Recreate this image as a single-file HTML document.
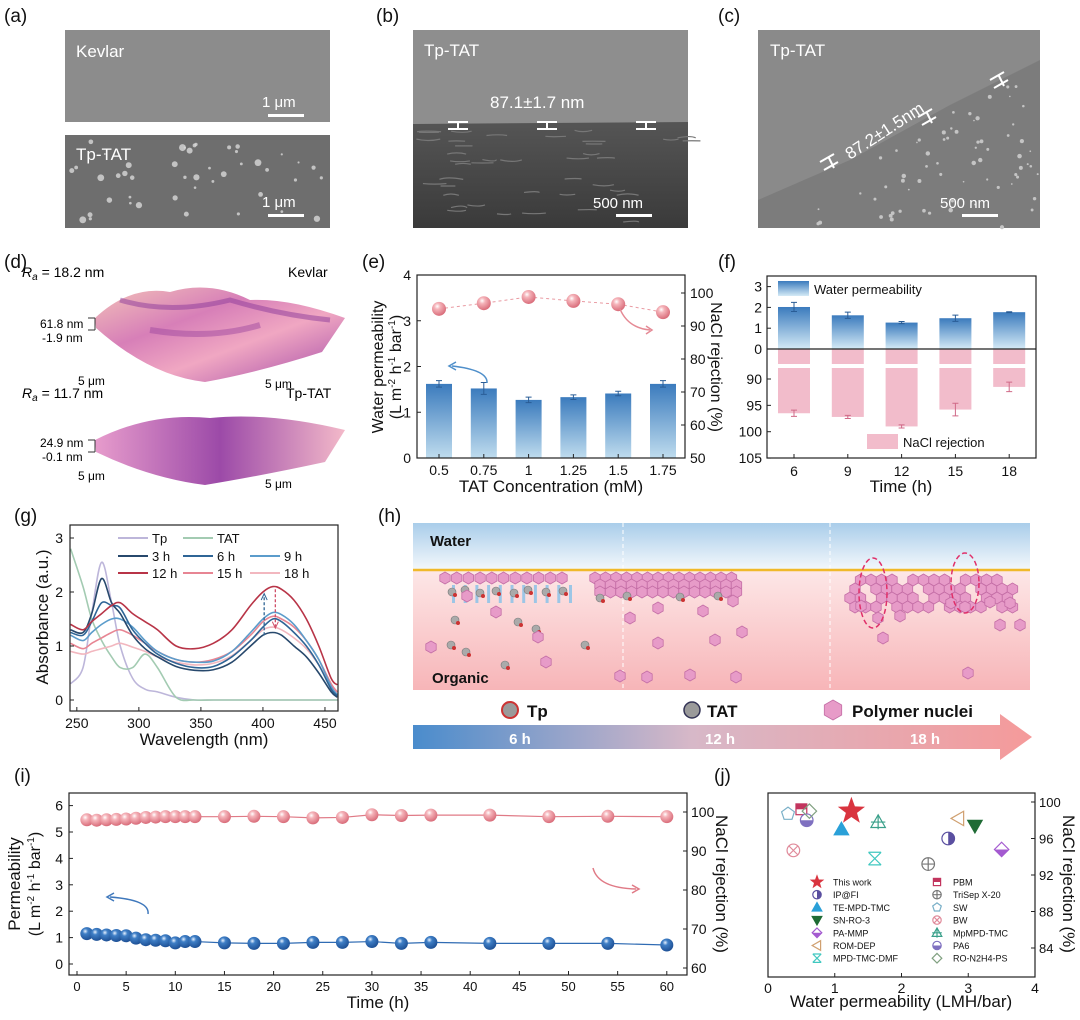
<!DOCTYPE html>
<html><head><meta charset="utf-8">
<style>
html,body{margin:0;padding:0;background:#fff;}
svg{display:block;font-family:"Liberation Sans",Arial,sans-serif;}
</style></head>
<body>
<svg id="fig" width="1080" height="1020" viewBox="0 0 1080 1020" xmlns="http://www.w3.org/2000/svg">
<defs>
  <linearGradient id="barBlue" x1="0" y1="0" x2="0" y2="1"><stop offset="0" stop-color="#3b7bbd"/><stop offset="1" stop-color="#bfdcee"/></linearGradient>
  <linearGradient id="barBlueF" x1="0" y1="0" x2="0" y2="1"><stop offset="0" stop-color="#3b7bbd"/><stop offset="1" stop-color="#d4eaf6"/></linearGradient>
  <radialGradient id="ballPink" cx="0.38" cy="0.32" r="0.7"><stop offset="0" stop-color="#fff"/><stop offset="0.3" stop-color="#f5b4ba"/><stop offset="1" stop-color="#d86a78"/></radialGradient>
  <radialGradient id="ballBlue" cx="0.38" cy="0.32" r="0.7"><stop offset="0" stop-color="#e8f2ff"/><stop offset="0.3" stop-color="#3f7fc6"/><stop offset="1" stop-color="#1d4f94"/></radialGradient>
  <linearGradient id="waterG" x1="0" y1="0" x2="0" y2="1"><stop offset="0" stop-color="#a9cdea"/><stop offset="1" stop-color="#f4f8fc"/></linearGradient>
  <linearGradient id="orgG" x1="0" y1="0" x2="0" y2="1"><stop offset="0" stop-color="#fde7e7"/><stop offset="1" stop-color="#f7b5b8"/></linearGradient>
  <linearGradient id="arrowG" x1="0" y1="0" x2="1" y2="0"><stop offset="0" stop-color="#4a8ccc"/><stop offset="0.45" stop-color="#d7b8c8"/><stop offset="1" stop-color="#f59a9a"/></linearGradient>
  <linearGradient id="afmG" x1="0" y1="0" x2="1" y2="1"><stop offset="0" stop-color="#f3c2b8"/><stop offset="0.35" stop-color="#d77fb8"/><stop offset="0.6" stop-color="#f0a7c2"/><stop offset="1" stop-color="#a44aa8"/></linearGradient>
  <linearGradient id="afmG2" x1="0" y1="0" x2="1" y2="0"><stop offset="0" stop-color="#e79ccc"/><stop offset="0.5" stop-color="#9c4aa8"/><stop offset="1" stop-color="#f3b9c9"/></linearGradient>
  <linearGradient id="semDark" x1="0" y1="0" x2="0" y2="1"><stop offset="0" stop-color="#555"/><stop offset="1" stop-color="#3a3a3a"/></linearGradient>
</defs>

<g font-size="19" fill="#111">
  <text x="4" y="22">(a)</text><text x="376" y="22">(b)</text><text x="718" y="22">(c)</text>
  <text x="4" y="268">(d)</text><text x="362" y="268">(e)</text><text x="718" y="268">(f)</text>
  <text x="14" y="522">(g)</text><text x="378" y="522">(h)</text>
  <text x="14" y="782">(i)</text><text x="714" y="782">(j)</text>
</g>

<g>
  <rect x="65" y="30" width="265" height="92" fill="#8c8c8c"/>
  <text x="76" y="57" fill="#fff" font-size="17">Kevlar</text>
  <rect x="268" y="114" width="36" height="3" fill="#fff"/><text x="262" y="107" fill="#fff" font-size="15">1 μm</text>
  <rect x="65" y="135" width="265" height="93" fill="#6e6e6e"/>
  <g id="aSpots" fill="#d8d8d8"></g>
  <text x="76" y="160" fill="#fff" font-size="17">Tp-TAT</text>
  <rect x="268" y="214" width="36" height="3" fill="#fff"/><text x="262" y="207" fill="#fff" font-size="15">1 μm</text>
</g>
<g>
  <rect x="413" y="30" width="275" height="198" fill="#8e8e8e"/>
  <path d="M413 124 L688 122 L688 228 L413 228 Z" fill="url(#semDark)"/>
  <g id="bTex" stroke="#777" stroke-width="1.2" fill="none"></g>
  <text x="424" y="56" fill="#fff" font-size="17">Tp-TAT</text>
  <text x="490" y="108" fill="#fff" font-size="17">87.1±1.7 nm</text>
  <g stroke="#fff" stroke-width="2"><path d="M448 122h20M448 129h20M458 122v7M537 122h20M537 129h20M547 122v7M636 122h20M636 129h20M646 122v7"/></g>
  <rect x="616" y="214" width="36" height="3" fill="#fff"/><text x="593" y="208" fill="#fff" font-size="15">500 nm</text>
</g>
<g>
  <rect x="758" y="30" width="282" height="198" fill="#8a8a8a"/>
  <path d="M758 228 L758 200 L850 160 L950 105 L1040 60 L1040 228 Z" fill="#7c7c7c"/>
  <g id="cSpots" fill="#c4c4c4"></g>
  <text x="770" y="56" fill="#fff" font-size="17">Tp-TAT</text>
  <text x="850" y="160" fill="#fff" font-size="17" transform="rotate(-33 850 160)">87.2±1.5nm</text>
  <g stroke="#fff" stroke-width="2"><path d="M820 162l14 -8M824 170l14 -8M829 158l5 10M918 117l14 -8M922 125l14 -8M927 113l5 10M990 80l14 -8M994 88l14 -8M999 76l5 10"/></g>
  <rect x="962" y="214" width="36" height="3" fill="#fff"/><text x="940" y="208" fill="#fff" font-size="15">500 nm</text>
</g>

<g font-size="14">
  <text x="22" y="277"><tspan font-style="italic">R</tspan><tspan font-style="italic" font-size="10" dy="3">a</tspan><tspan dy="-3"> = 18.2 nm</tspan></text>
  <text x="288" y="277">Kevlar</text>
  <path d="M95 318 Q130 285 170 292 Q210 280 250 300 Q290 298 345 318 L322 352 Q260 372 205 382 Q150 376 96 328 Z" fill="url(#afmG)"/>
  <path d="M120 300 Q170 315 230 300 Q280 315 330 320" stroke="#8c3a9a" stroke-width="5" fill="none" opacity="0.5"/>
  <path d="M150 330 Q210 340 260 325" stroke="#a04aa0" stroke-width="6" fill="none" opacity="0.5"/>
  <path d="M95 318 L95 330 M95 318 L88 318 M95 330 L88 330" stroke="#333" fill="none"/>
  <text x="40" y="328" font-size="12">61.8 nm</text><text x="42" y="342" font-size="12">-1.9 nm</text>
  <text x="78" y="385" font-size="12">5 μm</text><text x="265" y="388" font-size="12">5 μm</text>
  <text x="22" y="398"><tspan font-style="italic">R</tspan><tspan font-style="italic" font-size="10" dy="3">a</tspan><tspan dy="-3"> = 11.7 nm</tspan></text>
  <text x="286" y="398">Tp-TAT</text>
  <path d="M95 440 Q150 412 210 418 Q270 412 345 430 L325 462 Q260 476 205 485 Q150 478 96 452 Z" fill="url(#afmG2)"/>
  <path d="M95 440 L95 452 M95 440 L88 440 M95 452 L88 452" stroke="#333" fill="none"/>
  <text x="40" y="447" font-size="12">24.9 nm</text><text x="42" y="461" font-size="12">-0.1 nm</text>
  <text x="78" y="480" font-size="12">5 μm</text><text x="265" y="488" font-size="12">5 μm</text>
</g>

<g id="panelE"></g>
<g id="panelF"></g>
<g id="panelG"></g>
<g id="panelH"></g>
<g id="panelI"></g>
<g id="panelJ"></g>
</svg>

<script>
// (e)
const eCats = ['0.5','0.75','1','1.25','1.5','1.75'];
const ePerm = [1.62, 1.52, 1.27, 1.33, 1.41, 1.62];
const ePermErr = [0.07, 0.13, 0.06, 0.05, 0.05, 0.07];
const eRej = [95.2, 96.9, 98.8, 97.6, 96.6, 94.2];
const eLeftTicks = [0, 1, 2, 3, 4];
const eRightTicks = [50, 60, 70, 80, 90, 100];
// (f)
const fCats = ['6','9','12','15','18'];
const fPerm = [2.02, 1.62, 1.27, 1.48, 1.77];
const fPermErr = [0.22, 0.15, 0.05, 0.15, 0.02];
const fRej = [96.5, 97.2, 99.0, 95.8, 91.5];
const fRejErr = [0.6, 0.3, 0.3, 1.2, 0.9];
const fTopTicks = [0, 1, 2, 3];
const fBotTicks = [90, 95, 100, 105];
// (g)
const gWl = [245,255,262,270,278,285,295,305,315,330,345,360,375,390,400,408,415,425,435,445,455,460];
const gTp  = [0.3,0.6,1.6,2.55,1.8,1.0,0.4,0.2,0.15,0.05,0,0,0,0,0,0,0,0,0,0,0,0];
const gTAT = [2.8,2.1,1.5,1.1,0.8,0.6,0.6,0.85,0.6,0.05,0,0,0,0,0,0,0,0,0,0,0,0];
const g3h  = [1.3,1.25,1.6,2.25,1.8,1.6,1.2,0.95,0.8,0.62,0.55,0.56,0.7,1.0,1.2,1.25,1.2,1.0,0.8,0.5,0.15,0.05];
const g6h  = [1.25,1.2,1.45,1.8,1.75,1.7,1.3,1.05,0.85,0.68,0.6,0.62,0.8,1.1,1.35,1.5,1.45,1.25,1.0,0.65,0.2,0.08];
const g9h  = [1.2,1.1,1.25,1.4,1.5,1.5,1.35,1.1,0.9,0.75,0.7,0.72,0.9,1.25,1.5,1.62,1.58,1.4,1.1,0.75,0.25,0.1];
const g12h = [1.4,1.3,1.45,1.6,1.75,1.8,1.6,1.45,1.3,1.0,0.95,1.05,1.3,1.75,2.0,2.1,2.05,1.85,1.5,1.0,0.4,0.28];
const g15h = [1.05,0.95,1.05,1.15,1.25,1.3,1.2,1.05,0.9,0.75,0.7,0.75,0.9,1.2,1.45,1.55,1.5,1.35,1.1,0.75,0.3,0.15];
const g18h = [0.9,0.85,0.9,0.95,1.0,1.05,0.98,0.9,0.8,0.7,0.65,0.68,0.82,1.1,1.3,1.35,1.3,1.15,0.95,0.65,0.25,0.12];
const gXTicks = [250, 300, 350, 400, 450];
const gYTicks = [0, 1, 2, 3];
// (i)
const iTime = [1,2,3,4,5,6,7,8,9,10,11,12,15,18,21,24,27,30,33,36,42,48,54,60];
const iPerm = [1.15,1.12,1.1,1.08,1.07,0.98,0.92,0.9,0.88,0.8,0.85,0.85,0.8,0.78,0.78,0.82,0.82,0.85,0.78,0.82,0.78,0.78,0.78,0.72];
const iRej  = [98.0,97.9,98.0,98.1,98.2,98.4,98.6,98.7,98.8,98.8,98.8,98.8,98.8,98.9,98.8,98.5,98.6,99.3,99.1,99.2,99.2,98.8,98.9,98.8];
const iXTicks = [0,5,10,15,20,25,30,35,40,45,50,55,60];
const iLTicks = [0,1,2,3,4,5,6];
const iRTicks = [60,70,80,90,100];
// (j)
const jNames = ['This work','IP@FI','TE-MPD-TMC','SN-RO-3','PA-MMP','ROM-DEP','MPD-TMC-DMF','PBM','TriSep X-20','SW','BW','MpMPD-TMC','PA6','RO-N2H4-PS'];
const jPerm = [1.25, 2.7, 1.1, 3.1, 3.5, 2.85, 1.6, 0.5, 2.4, 0.3, 0.38, 1.65, 0.58, 0.62];
const jRej  = [99.0, 96.0, 97.0, 97.4, 94.8, 98.2, 93.8, 99.2, 93.2, 98.7, 94.7, 97.8, 98.0, 99.0];
const jShape = ['star','halfcircle','tri','invtri','diamond','lefttri','xbox','halfsquare','crosscircle','pentagon','xcircle','tricross','halfcirclebot','diamondo'];
const jColor = ['#d9343f','#5a4fa0','#2aa0d8','#1f6b35','#a45ad0','#d0a070','#40c8c0','#c2355e','#777','#7ab0c8','#e08a9a','#3aa08a','#7f70c0','#80a080'];
const jXTicks = [0,1,2,3,4];
const jYTicks = [84,88,92,96,100];

const NS = 'http://www.w3.org/2000/svg';
function mk(tag, attrs, parent){
  const el = document.createElementNS(NS, tag);
  for (const k in attrs) el.setAttribute(k, attrs[k]);
  parent.appendChild(el);
  return el;
}
function txt(parent, x, y, s, size, anchor, extra){
  const el = mk('text', Object.assign({x:x, y:y, 'font-size':size, 'text-anchor':anchor||'middle', fill:'#111'}, extra||{}), parent);
  el.textContent = s;
  return el;
}

(function(){
  const P = document.getElementById('panelE');
  const L=417,R=685,T=275,B=458;
  const xE = i => 439 + i*44.8;
  const yE = v => B - v*45.75;
  const yER = v => B - (v-50)*3.3;
  ePerm.forEach((v,i)=>{
    const r = mk('rect',{x:xE(i)-13,y:yE(v),width:26,height:B-yE(v),fill:'url(#barBlue)'},P);
    
    
    const e = mk('path',{d:`M${xE(i)} ${yE(v+ePermErr[i])}V${yE(v-ePermErr[i])}M${xE(i)-3} ${yE(v+ePermErr[i])}h6M${xE(i)-3} ${yE(v-ePermErr[i])}h6`,stroke:'#2a5d96','stroke-width':1,fill:'none'},P);
    
    
  });
  const pl = mk('polyline',{points:eRej.map((v,i)=>xE(i)+','+yER(v)).join(' '),fill:'none',stroke:'#e99aa2','stroke-dasharray':'3,3','stroke-width':1},P);
  
  
  eRej.forEach((v,i)=>{
    const c = mk('circle',{cx:xE(i),cy:yER(v),r:7,fill:'url(#ballPink)'},P);
    
    
  });
  const fr = mk('rect',{x:L,y:T,width:R-L,height:B-T,fill:'none',stroke:'#222','stroke-width':1.2},P);
  
  
  eLeftTicks.forEach(v=>{ mk('path',{d:`M${L} ${yE(v)}h4`,stroke:'#222'},P); txt(P,L-6,yE(v)+5,String(v),14,'end'); });
  eRightTicks.forEach(v=>{ mk('path',{d:`M${R} ${yER(v)}h-4`,stroke:'#222'},P); txt(P,R+5,yER(v)+5,String(v),14,'start'); });
  eCats.forEach((c,i)=>{ mk('path',{d:`M${xE(i)} ${B}v-4`,stroke:'#222'},P); txt(P,xE(i),B+17,c,14); });
  const xt = txt(P,551,492,'TAT Concentration (mM)',17);
  
  
  const y1 = txt(P,0,0,'Water permeability',16,'middle',{transform:'translate(383 367) rotate(-90)'});
  
  
  const y2 = txt(P,0,0,'',16,'middle',{transform:'translate(401 367) rotate(-90)'});
  y2.innerHTML = '(L m<tspan font-size="10" dy="-6">-2</tspan><tspan dy="6"> h</tspan><tspan font-size="10" dy="-6">-1</tspan><tspan dy="6"> bar</tspan><tspan font-size="10" dy="-6">-1</tspan><tspan dy="6">)</tspan>';
  
  
  const yr = txt(P,0,0,'NaCl rejection (%)',16,'middle',{transform:'translate(711 367) rotate(90)'});
  
  
  mk('path',{d:'M487 383 Q488 370 452 366',stroke:'#4f8fca','stroke-width':1.5,fill:'none'},P);
  mk('path',{d:'M456 362 L449 366 L456 370',stroke:'#4f8fca','stroke-width':1.5,fill:'none'},P);
  mk('path',{d:'M620 309 Q628 328 650 330',stroke:'#e58a95','stroke-width':1.5,fill:'none'},P);
  mk('path',{d:'M646 326 L652 330 L646 334',stroke:'#e58a95','stroke-width':1.5,fill:'none'},P);
})();

(function(){
  const P = document.getElementById('panelF');
  const L=767,R=1036,T=276,B=458;
  const xF = i => 794 + i*53.8;
  const yT = v => 349 - v*20.8;
  const yB = v => 379 + (v-90)*5.27;
  fPerm.forEach((v,i)=>{
    const r = mk('rect',{x:xF(i)-16,y:yT(v),width:32,height:349-yT(v),fill:'url(#barBlueF)'},P);
    
    
    mk('path',{d:`M${xF(i)} ${yT(v+fPermErr[i])}V${yT(v-fPermErr[i])}M${xF(i)-3} ${yT(v+fPermErr[i])}h6M${xF(i)-3} ${yT(v-fPermErr[i])}h6`,stroke:'#2a5d96',fill:'none'},P);
    const r1 = mk('rect',{x:xF(i)-16,y:349,width:32,height:15,fill:'#f2bccb'},P);
    
    
    const r2 = mk('rect',{x:xF(i)-16,y:368,width:32,height:yB(fRej[i])-368,fill:'#f2bccb'},P);
    
    
    const a=fRej[i]+fRejErr[i], b=fRej[i]-fRejErr[i];
    mk('path',{d:`M${xF(i)} ${yB(a)}V${yB(b)}M${xF(i)-3} ${yB(a)}h6M${xF(i)-3} ${yB(b)}h6`,stroke:'#d06a88',fill:'none'},P);
  });
  mk('path',{d:`M${L} 349H${R}`,stroke:'#222','stroke-width':1.2},P);
  const fr = mk('rect',{x:L,y:T,width:R-L,height:B-T,fill:'none',stroke:'#222','stroke-width':1.2},P);
  
  
  fTopTicks.forEach(v=>{ mk('path',{d:`M${L} ${yT(v)}h4`,stroke:'#222'},P); txt(P,L-5,yT(v)+5,String(v),14,'end'); });
  fBotTicks.forEach(v=>{ mk('path',{d:`M${L} ${yB(v)}h4`,stroke:'#222'},P); txt(P,L-5,yB(v)+5,String(v),14,'end'); });
  fCats.forEach((c,i)=>{ mk('path',{d:`M${xF(i)} ${B}v-4`,stroke:'#222'},P); txt(P,xF(i),B+18,c,14); });
  const xt = txt(P,901,492,'Time (h)',17);
  
  
  const l1 = mk('rect',{x:778,y:281,width:31,height:15,fill:'url(#barBlueF)'},P);
  
  
  const lt1 = txt(P,814,294,'Water permeability',13,'start');
  
  
  const l2 = mk('rect',{x:867,y:434,width:31,height:15,fill:'#f2bccb'},P);
  
  
  const lt2 = txt(P,903,447,'NaCl rejection',13,'start');
  
  
})();

(function(){
  const P = document.getElementById('panelG');
  const L=70,R=338,T=525,B=711;
  const xG = w => L + (w-244.5)*(R-L)/216;
  const yG = v => 700 - v*54;
  const series = [['Tp',gTp,'#bdb6da'],['TAT',gTAT,'#a3cbb2'],['18 h',g18h,'#f2b7bf'],['15 h',g15h,'#e78593'],['9 h',g9h,'#5b9ccb'],['6 h',g6h,'#2f6596'],['3 h',g3h,'#27486c'],['12 h',g12h,'#b83447']];
  series.forEach(s=>{
    const pts = gWl.map((w,i)=>[xG(w),yG(s[1][i])]);
    let d = 'M'+pts[0][0]+' '+pts[0][1];
    for(let i=1;i<pts.length;i++){
      const p0=pts[i-2]||pts[i-1], p1=pts[i-1], p2=pts[i], p3=pts[i+1]||pts[i];
      const c1x=p1[0]+(p2[0]-p0[0])/6, c1y=p1[1]+(p2[1]-p0[1])/6, c2x=p2[0]-(p3[0]-p1[0])/6, c2y=p2[1]-(p3[1]-p1[1])/6;
      d += ` C${c1x} ${c1y} ${c2x} ${c2y} ${p2[0]} ${p2[1]}`;
    }
    const el = mk('path',{d:d,fill:'none',stroke:s[2],'stroke-width':1.6},P);
    
    
  });
  mk('path',{d:`M${xG(401)} ${yG(1.2)}V${yG(1.95)}`,stroke:'#2f6596','stroke-dasharray':'3,2','stroke-width':1.3},P);
  mk('path',{d:`M${xG(401)-3} ${yG(1.85)}L${xG(401)} ${yG(1.97)}L${xG(401)+3} ${yG(1.85)}`,stroke:'#2f6596',fill:'none'},P);
  mk('path',{d:`M${xG(410)} ${yG(2.05)}V${yG(1.35)}`,stroke:'#d0506a','stroke-dasharray':'3,2','stroke-width':1.3},P);
  mk('path',{d:`M${xG(410)-3} ${yG(1.45)}L${xG(410)} ${yG(1.33)}L${xG(410)+3} ${yG(1.45)}`,stroke:'#d0506a',fill:'none'},P);
  const fr = mk('rect',{x:L,y:T,width:R-L,height:B-T,fill:'none',stroke:'#222','stroke-width':1.2},P);
  
  
  gXTicks.forEach(w=>{ mk('path',{d:`M${xG(w)} ${B}v-4`,stroke:'#222'},P); txt(P,xG(w),B+17,String(w),14); });
  gYTicks.forEach(v=>{ mk('path',{d:`M${L} ${yG(v)}h4`,stroke:'#222'},P); txt(P,L-7,yG(v)+5,String(v),14,'end'); });
  const xt = txt(P,204,745,'Wavelength (nm)',17);
  
  
  const yt = txt(P,0,0,'Absorbance (a.u.)',17,'middle',{transform:'translate(48 617) rotate(-90)'});
  
  
  const leg = [['Tp','#bdb6da',118,538],['TAT','#a3cbb2',183,538],['3 h','#27486c',118,556],['6 h','#2f6596',183,556],['9 h','#5b9ccb',250,556],['12 h','#b83447',118,573],['15 h','#e78593',183,573],['18 h','#f2b7bf',250,573]];
  leg.forEach(l=>{
    mk('path',{d:`M${l[2]} ${l[3]}h30`,stroke:l[1],'stroke-width':2},P);
    const t = txt(P,l[2]+34,l[3]+5,l[0],13,'start');
    
    
  });
})();

(function(){
  const P = document.getElementById('panelH');
  mk('rect',{x:413,y:523,width:617,height:47,fill:'url(#waterG)'},P);
  mk('rect',{x:413,y:570,width:617,height:120,fill:'url(#orgG)'},P);
  mk('path',{d:'M623 523V690M830 523V690',stroke:'#fff','stroke-dasharray':'4,3','stroke-width':1},P);
  mk('path',{d:'M413 570H1030',stroke:'#f0b92a','stroke-width':2.5},P);
  const w = txt(P,430,546,'Water',15,'start',{'font-weight':'bold'});
  
  
  const o = txt(P,432,683,'Organic',15,'start',{'font-weight':'bold'});
  
  
  function hex(cx,cy,r){
    let p=[];for(let k=0;k<6;k++){const a=Math.PI/6+k*Math.PI/3;p.push((cx+r*Math.cos(a)).toFixed(1)+','+(cy+r*Math.sin(a)).toFixed(1));}
    mk('polygon',{points:p.join(' '),fill:'#e79bc8',stroke:'#c46ea6','stroke-width':0.8},P);
  }
  function mol(cx,cy,c){ mk('circle',{cx:cx,cy:cy,r:4,fill:c,stroke:'#777','stroke-width':0.6},P); mk('circle',{cx:cx+3,cy:cy+3,r:2,fill:'#c33'},P); }
  for(let i=0;i<11;i++) hex(445+i*11.7,578,6);
  for(let i=0;i<11;i++) mk('rect',{x:452+i*11.7,y:585,width:3,height:18,fill:'#9cc6e6'},P);
  [[452,592],[465,590],[480,593],[496,591],[514,593],[528,590],[546,592],[563,591],[455,620],[518,622],[536,629],[451,645],[466,652],[505,665]].forEach(p=>mol(p[0],p[1],'#aaa'));
  [[467,596,6],[496,612,6],[538,637,6],[431,647,6],[546,662,6]].forEach(p=>hex(p[0],p[1],p[2]));
  for(let r=0;r<3;r++) for(let i=0;i<14;i++) hex(595+i*10.5+(r%2)*5 - (r==2?-5:0),578+r*7,6);
  [[600,598],[627,596],[680,597],[718,596],[585,645]].forEach(p=>mol(p[0],p[1],'#aaa'));
  [[590,618],[618,608],[663,611],[693,601],[702,632],[675,640],[618,643],[650,675],[580,676],[607,677],[696,677]].forEach(p=>hex(p[0]+40,p[1],6));
  for(let r=0;r<4;r++) for(let i=0;i<16;i++){ if((i*7+r*3)%5===0) continue; hex(850+i*10.5+(r%2)*5,580+r*9,6); }
  [[861,606],[878,618],[900,616],[951,603],[965,607],[990,602],[1010,603],[1020,625]].forEach(p=>hex(p[0],p[1],6));
  hex(883,638,6); hex(968,673,6); hex(1000,625,6);
  mk('ellipse',{cx:873,cy:593,rx:14,ry:35,fill:'none',stroke:'#e0306a','stroke-width':1.5,'stroke-dasharray':'5,3'},P);
  mk('ellipse',{cx:965,cy:583,rx:14,ry:30,fill:'none',stroke:'#e0306a','stroke-width':1.5,'stroke-dasharray':'5,3'},P);
  mk('circle',{cx:510,cy:710,r:8,fill:'#9a9a9a',stroke:'#c33','stroke-width':2},P);
  const t1 = txt(P,527,717,'Tp',17,'start',{'font-weight':'bold'});
  
  
  mk('circle',{cx:692,cy:710,r:8,fill:'#9a9a9a',stroke:'#335','stroke-width':1.5},P);
  const t2 = txt(P,707,717,'TAT',17,'start',{'font-weight':'bold'});
  
  
  hex(833,710,10);
  const t3 = txt(P,852,717,'Polymer nuclei',17,'start',{'font-weight':'bold'});
  
  
  const ar = mk('path',{d:'M413 725H1000V714L1032 737L1000 760V749H413Z',fill:'url(#arrowG)'},P);
  
  
  txt(P,520,744,'6 h',15,'middle',{fill:'#fff','font-weight':'bold'});
  txt(P,720,744,'12 h',15,'middle',{fill:'#fff','font-weight':'bold'});
  txt(P,925,744,'18 h',15,'middle',{fill:'#fff','font-weight':'bold'});
})();

(function(){
  const P = document.getElementById('panelI');
  const L=69,R=687,T=793,B=975;
  const xI = t => 77 + t*9.83;
  const yL = v => 964 - v*26.4;
  const yR = v => 968 - (v-60)*3.9;
  const bl = mk('polyline',{points:iTime.map((t,i)=>xI(t)+','+yL(iPerm[i])).join(' '),fill:'none',stroke:'#2f6bb3','stroke-width':1.2},P);
  
  
  const rl = mk('polyline',{points:iTime.map((t,i)=>xI(t)+','+yR(iRej[i])).join(' '),fill:'none',stroke:'#e07a86','stroke-width':1.2},P);
  
  
  iTime.forEach((t,i)=>{
    const c = mk('circle',{cx:xI(t),cy:yL(iPerm[i]),r:6.5,fill:'url(#ballBlue)'},P);
    
    
    const d = mk('circle',{cx:xI(t),cy:yR(iRej[i]),r:6.5,fill:'url(#ballPink)'},P);
    
    
  });
  const fr = mk('rect',{x:L,y:T,width:R-L,height:B-T,fill:'none',stroke:'#222','stroke-width':1.2},P);
  
  
  iXTicks.forEach(t=>{ mk('path',{d:`M${xI(t)} ${B}v-4`,stroke:'#222'},P); txt(P,xI(t),B+16,String(t),13); });
  iLTicks.forEach(v=>{ mk('path',{d:`M${L} ${yL(v)}h4`,stroke:'#222'},P); txt(P,L-6,yL(v)+5,String(v),14,'end'); });
  iRTicks.forEach(v=>{ mk('path',{d:`M${R} ${yR(v)}h-4`,stroke:'#222'},P); txt(P,R+4,yR(v)+5,String(v),14,'start'); });
  const xt = txt(P,378,1008,'Time (h)',17);
  
  
  const y1 = txt(P,0,0,'Permeability',17,'middle',{transform:'translate(20 884) rotate(-90)'});
  
  
  const y2 = txt(P,0,0,'',16,'middle',{transform:'translate(40 884) rotate(-90)'});
  y2.innerHTML = '(L m<tspan font-size="10" dy="-6">-2</tspan><tspan dy="6"> h</tspan><tspan font-size="10" dy="-6">-1</tspan><tspan dy="6"> bar</tspan><tspan font-size="10" dy="-6">-1</tspan><tspan dy="6">)</tspan>';
  
  
  const yr = txt(P,0,0,'NaCl rejection (%)',17,'middle',{transform:'translate(716 884) rotate(90)'});
  
  
  mk('path',{d:'M148 914 Q150 900 110 897',stroke:'#3f78bc','stroke-width':1.5,fill:'none'},P);
  mk('path',{d:'M114 893 L107 897 L114 901',stroke:'#3f78bc','stroke-width':1.5,fill:'none'},P);
  mk('path',{d:'M593 868 Q598 888 636 889',stroke:'#e07a86','stroke-width':1.5,fill:'none'},P);
  mk('path',{d:'M632 885 L639 889 L632 893',stroke:'#e07a86','stroke-width':1.5,fill:'none'},P);
})();

(function(){
  const P = document.getElementById('panelJ');
  const L=768,R=1035,T=793,B=977;
  const xJ = v => L + v*66.75;
  const yJ = v => 948 - (v-84)*9.125;
  function marker(shape,x,y,c,s){
    const g = mk('g',{},P);
    const sw = {stroke:c,'stroke-width':1.2};
    if(shape==='star'){
      let p=[];for(let k=0;k<10;k++){const a=-Math.PI/2+k*Math.PI/5,r=k%2?s*0.45:s*1.1;p.push((x+r*Math.cos(a)).toFixed(1)+','+(y+r*Math.sin(a)).toFixed(1));}
      mk('polygon',{points:p.join(' '),fill:c},g);
    } else if(shape==='halfcircle'){
      mk('circle',Object.assign({cx:x,cy:y,r:s*0.7,fill:'#fff'},sw),g);
      mk('path',{d:`M${x} ${y-s*0.7}A${s*0.7} ${s*0.7} 0 0 1 ${x} ${y+s*0.7}Z`,fill:c},g);
    } else if(shape==='halfcirclebot'){
      mk('circle',Object.assign({cx:x,cy:y,r:s*0.7,fill:'#fff'},sw),g);
      mk('path',{d:`M${x-s*0.7} ${y}A${s*0.7} ${s*0.7} 0 0 0 ${x+s*0.7} ${y}Z`,fill:c},g);
    } else if(shape==='tri'){
      mk('polygon',Object.assign({points:`${x},${y-s*0.8} ${x-s*0.8},${y+s*0.6} ${x+s*0.8},${y+s*0.6}`,fill:c},sw),g);
    } else if(shape==='invtri'){
      mk('polygon',Object.assign({points:`${x},${y+s*0.8} ${x-s*0.8},${y-s*0.6} ${x+s*0.8},${y-s*0.6}`,fill:c},sw),g);
    } else if(shape==='diamond'){
      mk('polygon',Object.assign({points:`${x},${y-s*0.8} ${x+s*0.8},${y} ${x},${y+s*0.8} ${x-s*0.8},${y}`,fill:'#fff'},sw),g);
      mk('polygon',{points:`${x-s*0.8},${y} ${x+s*0.8},${y} ${x},${y+s*0.8}`,fill:c},g);
    } else if(shape==='diamondo'){
      mk('polygon',Object.assign({points:`${x},${y-s*0.8} ${x+s*0.8},${y} ${x},${y+s*0.8} ${x-s*0.8},${y}`,fill:'none'},sw),g);
    } else if(shape==='lefttri'){
      mk('polygon',Object.assign({points:`${x-s*0.8},${y} ${x+s*0.6},${y-s*0.8} ${x+s*0.6},${y+s*0.8}`,fill:'none'},sw),g);
    } else if(shape==='xbox'){
      mk('path',Object.assign({d:`M${x-s*0.7} ${y-s*0.7}L${x+s*0.7} ${y+s*0.7}M${x+s*0.7} ${y-s*0.7}L${x-s*0.7} ${y+s*0.7}M${x-s*0.7} ${y-s*0.7}H${x+s*0.7}M${x-s*0.7} ${y+s*0.7}H${x+s*0.7}`,fill:'none'},sw),g);
    } else if(shape==='halfsquare'){
      mk('rect',Object.assign({x:x-s*0.6,y:y-s*0.6,width:s*1.2,height:s*1.2,fill:'#fff'},sw),g);
      mk('rect',{x:x-s*0.6,y:y-s*0.6,width:s*1.2,height:s*0.6,fill:c},g);
    } else if(shape==='crosscircle'){
      mk('circle',Object.assign({cx:x,cy:y,r:s*0.7,fill:'none'},sw),g);
      mk('path',Object.assign({d:`M${x-s*0.7} ${y}H${x+s*0.7}M${x} ${y-s*0.7}V${y+s*0.7}`},sw),g);
    } else if(shape==='pentagon'){
      let p=[];for(let k=0;k<5;k++){const a=-Math.PI/2+k*2*Math.PI/5;p.push((x+s*0.75*Math.cos(a)).toFixed(1)+','+(y+s*0.75*Math.sin(a)).toFixed(1));}
      mk('polygon',Object.assign({points:p.join(' '),fill:'none'},sw),g);
    } else if(shape==='xcircle'){
      mk('circle',Object.assign({cx:x,cy:y,r:s*0.7,fill:'none'},sw),g);
      mk('path',Object.assign({d:`M${x-s*0.5} ${y-s*0.5}L${x+s*0.5} ${y+s*0.5}M${x+s*0.5} ${y-s*0.5}L${x-s*0.5} ${y+s*0.5}`},sw),g);
    } else if(shape==='tricross'){
      mk('polygon',Object.assign({points:`${x},${y-s*0.8} ${x-s*0.8},${y+s*0.6} ${x+s*0.8},${y+s*0.6}`,fill:'none'},sw),g);
      mk('path',Object.assign({d:`M${x-s*0.8} ${y}H${x+s*0.8}M${x} ${y-s*0.8}V${y+s*0.8}`},sw),g);
    }
    return g;
  }
  jNames.forEach((n,i)=>{
    const m = marker(jShape[i],xJ(jPerm[i]),yJ(jRej[i]),jColor[i],i===0?13:9);
    
    
  });
  jNames.forEach((n,i)=>{
    const col = i<7?0:1, row = i%7;
    const lx = col?937:817, ly = 882 + row*12.7;
    const m = marker(jShape[i],lx,ly,jColor[i],i===0?7:6);
    
    
    const t = txt(P,lx+16,ly+3.5,n,9,'start');
    
    
  });
  const fr = mk('rect',{x:L,y:T,width:R-L,height:B-T,fill:'none',stroke:'#222','stroke-width':1.2},P);
  
  
  jXTicks.forEach(v=>{ mk('path',{d:`M${xJ(v)} ${B}v-4`,stroke:'#222'},P); txt(P,xJ(v),B+16,String(v),14); });
  jYTicks.forEach(v=>{ mk('path',{d:`M${R} ${yJ(v)}h-4`,stroke:'#222'},P); txt(P,R+4,yJ(v)+5,String(v),13,'start'); });
  const xt = txt(P,901,1007,'Water permeability (LMH/bar)',17);
  
  
  const yr = txt(P,0,0,'NaCl rejection (%)',17,'middle',{transform:'translate(1063 884) rotate(90)'});
  
  
})();

(function(){
  let s = 7; const rnd = () => { s = (s*9301+49297)%233280; return s/233280; };
  const a = document.getElementById('aSpots');
  for(let i=0;i<45;i++) mk('circle',{cx:70+rnd()*255,cy:140+rnd()*85,r:1+rnd()*2.5,opacity:0.8},a);
  const c = document.getElementById('cSpots');
  for(let i=0;i<120;i++){ const x=800+rnd()*240, y=70+rnd()*158; if(y>228-(x-758)*0.6) mk('circle',{cx:x,cy:y,r:0.8+rnd()*1.5},c); }
  const b = document.getElementById('bTex');
  for(let i=0;i<40;i++){ const x=415+rnd()*270, y=130+rnd()*95; mk('path',{d:`M${x} ${y}q${6+rnd()*8} ${-3+rnd()*6} ${14+rnd()*10} 0`},b); }
})();
</script>
</body></html>
